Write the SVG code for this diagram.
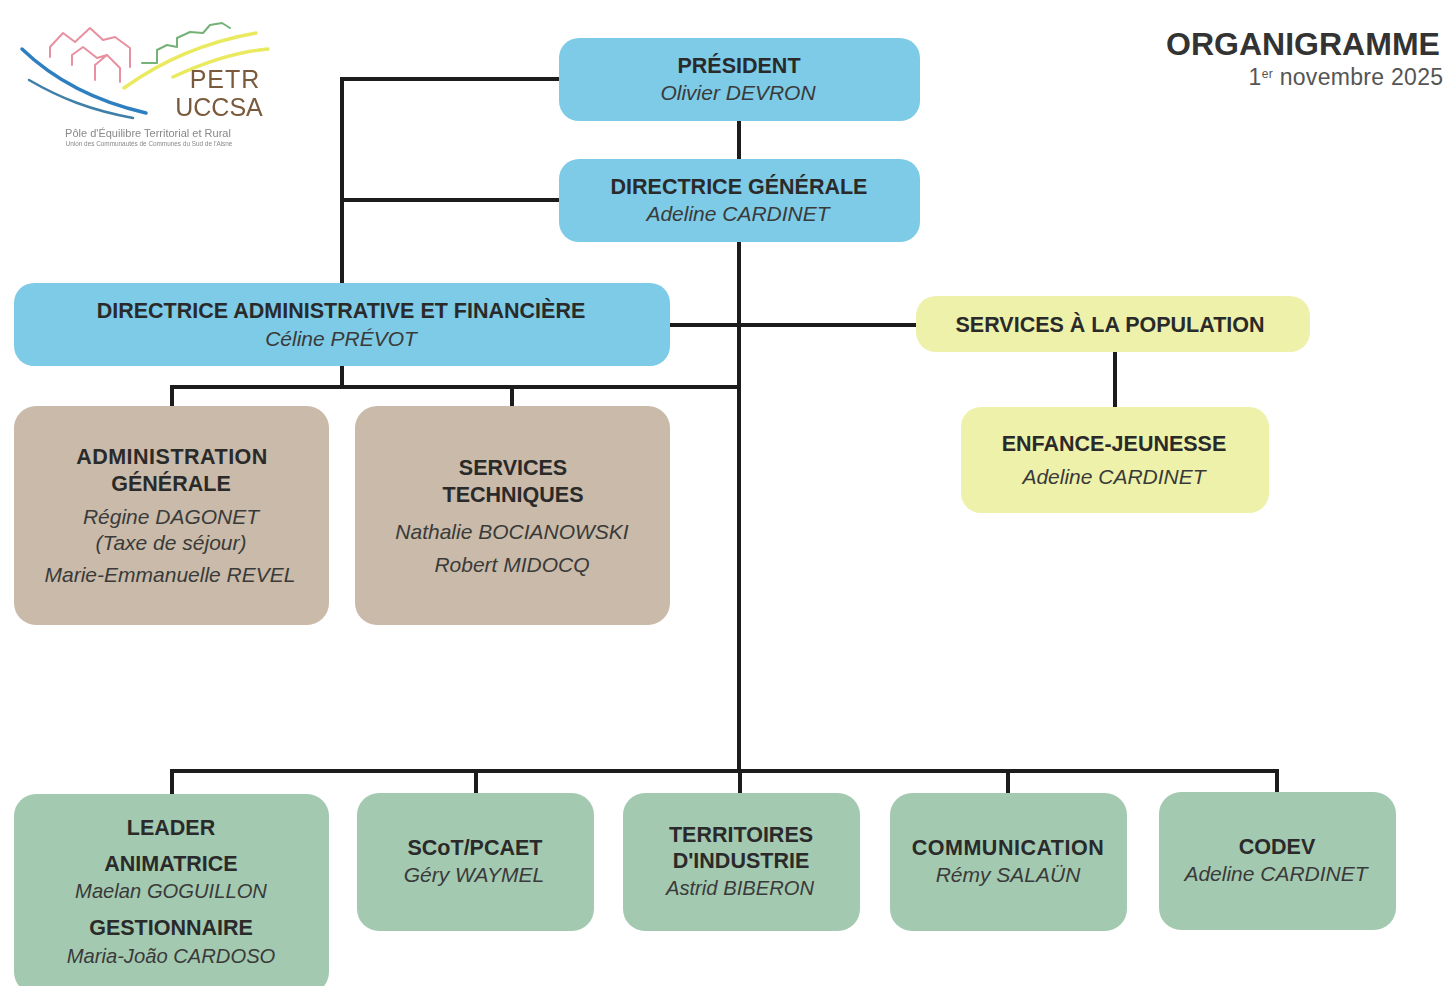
<svg xmlns="http://www.w3.org/2000/svg" width="1448" height="986" viewBox="0 0 1448 986">
<defs><filter id="soft" x="-5%" y="-5%" width="110%" height="110%"><feGaussianBlur stdDeviation="0.7"/></filter></defs>
<style>
text{font-family:"Liberation Sans",Arial,sans-serif;text-anchor:middle;fill:#2a2a2a}
.b{font-weight:700;font-size:21.5px}
.i{font-style:italic;font-size:21px;fill:#3a3a3a}
.n{font-size:20.2px}
.blue{fill:#7dcbe6}.yel{fill:#eef1a9}.tau{fill:#c9baa9}.grn{fill:#a4c9b1}
.c{fill:none;stroke:#1c1c1c;stroke-width:4}
.lg{fill:none;stroke-linecap:round;stroke-linejoin:round}
.wide{letter-spacing:.5px}
</style>
<rect width="1448" height="986" fill="#ffffff"/>
<g id="connectors">
<path class="c" d="M559 79H342V284M559 200H342M739 120V159M739 241V772M669 325H916M342 365V387M172 407V387H739M512 407V387M1115 351V407M172 794V771H1277V792M476 793V771M740 793V771M1008 793V771"/>
</g>
<g id="logo" filter="url(#soft)">
<path class="lg" stroke="#e8909f" stroke-width="2" d="M50 57V47L63 33L75 42L90 28L103 40L115 37L130 48V67M72 65V55L83 47L97 58L107 55L120 68V82M95 80V65L107 55"/>
<path class="lg" stroke="#74b277" stroke-width="2" d="M142 63H157V50L167 45L177 47V38L190 32L203 33L210 25L222 23L230 28"/>
<path class="lg" stroke="#e9ea60" stroke-width="3.5" d="M124 88C160 62 205 42 256 33M173 77C205 62 235 52 268 49"/>
<path class="lg" stroke="#2f7fc0" stroke-width="3.5" d="M22 49C50 76 90 100 146 113"/>
<path class="lg" stroke="#3f7fa8" stroke-width="2.5" d="M29 80C60 98 90 110 133 118"/>
<text x="225" y="88" style="font-size:25px;fill:#7a5a3c;letter-spacing:1px">PETR</text>
<text x="219" y="116" style="font-size:25px;fill:#7a5a3c">UCCSA</text>
<text x="148" y="137" style="font-size:11px;fill:#888">Pôle d'Équilibre Territorial et Rural</text>
<text x="149" y="146" style="font-size:6.4px;fill:#888">Union des Communautés de Communes du Sud de l'Aisne</text>
</g>
<g id="title">
<text x="1303" y="55" style="font-weight:700;font-size:32px;fill:#333">ORGANIGRAMME</text>
<text x="1346" y="85" style="font-size:23px;fill:#555;letter-spacing:.3px">1<tspan dy="-7" font-size="12">er</tspan><tspan dy="7"> novembre 2025</tspan></text>
</g>
<g id="president"><rect class="blue" x="559" y="38" width="361" height="83" rx="20"/><text class="b" x="739" y="73">PRÉSIDENT</text><text class="i" x="738" y="100">Olivier DEVRON</text></g>
<g id="dg"><rect class="blue" x="559" y="159" width="361" height="83" rx="20"/><text class="b" x="739" y="194">DIRECTRICE GÉNÉRALE</text><text class="i" x="738" y="221">Adeline CARDINET</text></g>
<g id="daf"><rect class="blue" x="14" y="283" width="656" height="83" rx="20"/><text class="b" x="341" y="318">DIRECTRICE ADMINISTRATIVE ET FINANCIÈRE</text><text class="i" x="341" y="346">Céline PRÉVOT</text></g>
<g id="population"><rect class="yel" x="916" y="296" width="394" height="56" rx="20"/><text class="b" x="1110" y="332">SERVICES À LA POPULATION</text></g>
<g id="enfance"><rect class="yel" x="961" y="407" width="308" height="106" rx="20"/><text class="b" x="1114" y="451">ENFANCE-JEUNESSE</text><text class="i" x="1114" y="484">Adeline CARDINET</text></g>
<g id="admin"><rect class="tau" x="14" y="406" width="315" height="219" rx="22"/><text class="b wide" x="172" y="464">ADMINISTRATION</text><text class="b" x="171" y="491">GÉNÉRALE</text><text class="i" x="171" y="524">Régine DAGONET</text><text class="i" x="171" y="550">(Taxe de séjour)</text><text class="i" x="170" y="582">Marie-Emmanuelle REVEL</text></g>
<g id="techniques"><rect class="tau" x="355" y="406" width="315" height="219" rx="22"/><text class="b" x="513" y="475">SERVICES</text><text class="b" x="513" y="502">TECHNIQUES</text><text class="i" x="512" y="539">Nathalie BOCIANOWSKI</text><text class="i" x="512" y="572">Robert MIDOCQ</text></g>
<g id="leader"><rect class="grn" x="14" y="794" width="315" height="200" rx="22"/><text class="b" x="171" y="835">LEADER</text><text class="b" x="171" y="871">ANIMATRICE</text><text class="i n" x="171" y="898">Maelan GOGUILLON</text><text class="b" x="171" y="935">GESTIONNAIRE</text><text class="i n" x="171" y="963">Maria-João CARDOSO</text></g>
<g id="scot"><rect class="grn" x="357" y="793" width="237" height="138" rx="22"/><text class="b" x="475" y="855">SCoT/PCAET</text><text class="i" x="474" y="882">Géry WAYMEL</text></g>
<g id="territoires"><rect class="grn" x="623" y="793" width="237" height="138" rx="22"/><text class="b" x="741" y="842">TERRITOIRES</text><text class="b" x="741" y="868">D'INDUSTRIE</text><text class="i n" x="740" y="895">Astrid BIBERON</text></g>
<g id="communication"><rect class="grn" x="890" y="793" width="237" height="138" rx="22"/><text class="b wide" x="1008" y="855">COMMUNICATION</text><text class="i" x="1008" y="882">Rémy SALAÜN</text></g>
<g id="codev"><rect class="grn" x="1159" y="792" width="237" height="138" rx="22"/><text class="b" x="1277" y="854">CODEV</text><text class="i" x="1276" y="881">Adeline CARDINET</text></g>
</svg>
